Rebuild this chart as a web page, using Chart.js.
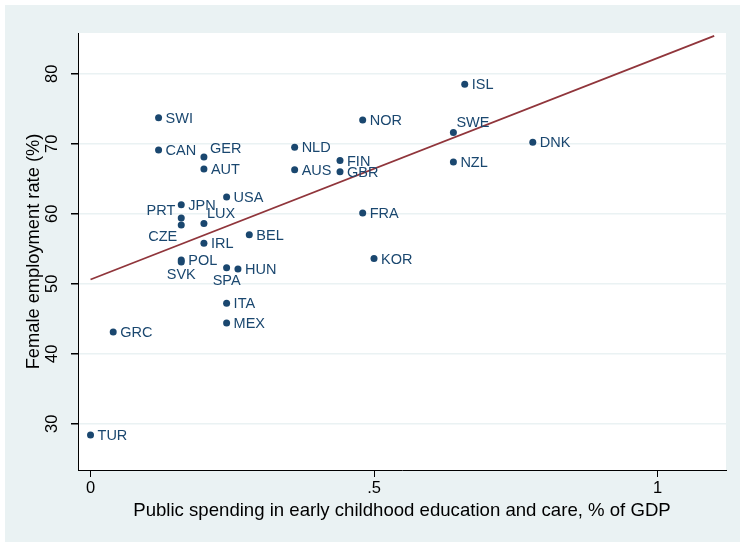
<!DOCTYPE html>
<html>
<head>
<meta charset="utf-8">
<script src="https://cdn.jsdelivr.net/npm/chart.js@4.4.1/dist/chart.umd.min.js"></script>
<style>
  body { margin: 0; background: #ffffff; }
  #wrap { width: 740px; height: 542px; }
</style>
</head>
<body>
<div id="wrap"><canvas id="scatter_chart" width="740" height="542"></canvas></div>
<script>
// country codes and values
var countries = ["TUR", "GRC", "SWI", "CAN", "GER", "AUT", "NLD", "AUS", "USA", "JPN",
                 "PRT", "CZE", "LUX", "IRL", "BEL", "POL", "SVK", "SPA", "HUN", "ITA",
                 "MEX", "ISL", "NOR", "SWE", "DNK", "FIN", "GBR", "NZL", "FRA", "KOR"];
var spending = [0.00, 0.04, 0.12, 0.12, 0.20, 0.20, 0.36, 0.36, 0.24, 0.16,
                0.16, 0.16, 0.20, 0.20, 0.28, 0.16, 0.16, 0.24, 0.26, 0.24,
                0.24, 0.66, 0.48, 0.64, 0.78, 0.44, 0.44, 0.64, 0.48, 0.50];
var femaleEmp = [28.4, 43.1, 73.7, 69.1, 68.1, 66.4, 69.5, 66.3, 62.4, 61.3,
                 59.4, 58.4, 58.6, 55.8, 57.0, 53.4, 53.1, 52.3, 52.1, 47.2,
                 44.4, 78.5, 73.4, 71.6, 70.2, 67.6, 66.0, 67.4, 60.1, 53.6];

// fitted line end points
var fitX = [0, 1.1];
var fitY = [50.6, 85.4];

var xTicks = [0, 0.5, 1];
var yTicks = [30, 40, 50, 60, 70, 80];

// label clock positions (default 3 o'clock)
var labelClock = { GER: 2, LUX: 1, SWE: 1, PRT: 10, CZE: 8, SVK: 6, SPA: 6 };

var navy = "#1a476f";
var maroon = "#90353b";
var bgcol = "#eaf2f3";
var fontName = "'Liberation Sans', Arial, sans-serif";

var points = [];
for (var i = 0; i < countries.length; i++) {
  points.push({ x: spending[i], y: femaleEmp[i] });
}
var fitPoints = [];
for (var j = 0; j < fitX.length; j++) {
  fitPoints.push({ x: fitX[j], y: fitY[j] });
}

const bgPlugin = {
  id: "bgPlugin",
  beforeDraw(chart) {
    var ctx = chart.ctx;
    var a = chart.chartArea;
    ctx.save();
    ctx.fillStyle = "#ffffff";
    ctx.fillRect(0, 0, chart.width, chart.height);
    ctx.fillStyle = bgcol;
    ctx.fillRect(5, 5, chart.width - 5, chart.height - 5);
    ctx.fillStyle = "#ffffff";
    ctx.fillRect(a.left, a.top, a.right - a.left, a.bottom - a.top);
    ctx.restore();
  }
};

const labelPlugin = {
  id: "labelPlugin",
  afterDatasetsDraw(chart) {
    var ctx = chart.ctx;
    var meta = chart.getDatasetMeta(1);
    ctx.save();
    ctx.font = "14.5px " + fontName;
    ctx.fillStyle = navy;
    ctx.textBaseline = "middle";
    meta.data.forEach(function (pt, k) {
      var name = countries[k];
      var pos = labelClock[name] || 3;
      var dx = 7, dy = 1, align = "left";
      if (pos == 2) { dx = 6; dy = -8; }
      if (pos == 1) { dx = 3; dy = -10; }
      if (pos == 10) { dx = -6; dy = -7; align = "right"; }
      if (pos == 8) { dx = -4; dy = 12; align = "right"; }
      if (pos == 6) { dx = 0; dy = 13; align = "center"; }
      ctx.textAlign = align;
      ctx.fillText(name, pt.x + dx, pt.y + dy);
    });
    ctx.restore();
  }
};

const config = {
  data: {
    datasets: [{
      type: "line",
      label: "Fitted values",
      data: fitPoints,
      borderColor: maroon,
      borderWidth: 1.8,
      pointRadius: 0,
      fill: false,
      tension: 0
    },
    {
      type: "scatter",
      label: "Female employment rate",
      data: points,
      backgroundColor: navy,
      borderWidth: 0,
      pointRadius: 3.5
    }]
  },
  options: {
    responsive: false,
    animation: false,
    devicePixelRatio: 1,
    layout: { padding: { left: 0, top: 33, right: 14, bottom: 0 } },
    plugins: {
      legend: { display: false },
      tooltip: { enabled: false }
    },
    scales: {
      x: {
        type: "linear",
        min: -0.0221,
        max: 1.1208,
        afterBuildTicks: function (scale) {
          scale.ticks = xTicks.map(function (v) { return { value: v }; });
        },
        afterFit: function (scale) { scale.height = 72; },
        grid: { drawOnChartArea: false, drawTicks: true, tickLength: 7, tickColor: "#000000" },
        border: { display: true, color: "#000000", width: 1 },
        ticks: {
          padding: 2,
          color: "#000000",
          font: { family: fontName, size: 16.5 },
          maxRotation: 0,
          callback: function (v) { return v == 0.5 ? ".5" : String(v); }
        },
        title: {
          display: true,
          text: "Public spending in early childhood education and care, % of GDP",
          color: "#000000",
          font: { family: fontName, size: 18.6 },
          padding: { top: 0, bottom: 20 }
        }
      },
      y: {
        type: "linear",
        min: 23.39,
        max: 85.82,
        afterBuildTicks: function (scale) {
          scale.ticks = yTicks.map(function (v) { return { value: v }; });
        },
        afterFit: function (scale) { scale.width = 78; },
        grid: { color: bgcol, lineWidth: 1.5, drawTicks: true, tickLength: 7, tickColor: "#000000" },
        border: { display: true, color: "#000000", width: 1 },
        ticks: {
          padding: 9,
          minRotation: 90,
          maxRotation: 90,
          crossAlign: "center",
          color: "#000000",
          font: { family: fontName, size: 16.5 }
        },
        title: {
          display: true,
          text: "Female employment rate (%)",
          color: "#000000",
          font: { family: fontName, size: 18.3 },
          padding: { top: 23, bottom: 0 }
        }
      }
    }
  },
  plugins: [bgPlugin, labelPlugin]
};

function makescatter() {
  var ctx = document.getElementById("scatter_chart");
  var chart = new Chart(ctx, config);
  return chart;
}

makescatter();
</script>
</body>
</html>
